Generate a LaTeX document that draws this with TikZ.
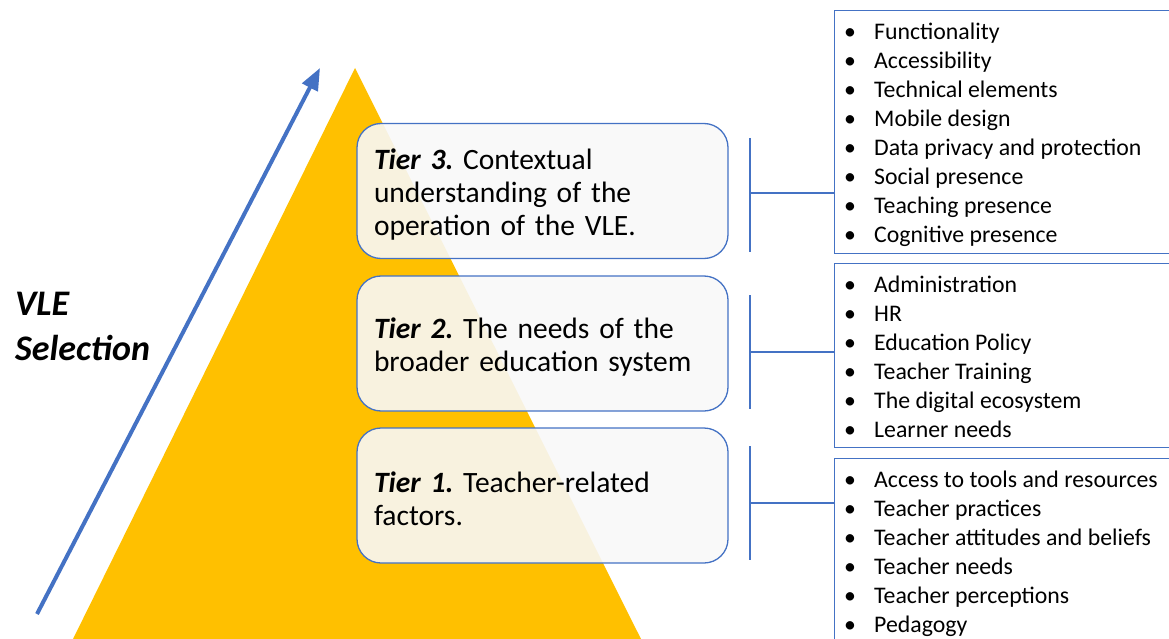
\documentclass[tikz,border=0pt]{standalone}
\usepackage{fontspec}
\setmainfont{Carlito}
\usetikzlibrary{arrows.meta}
\definecolor{gold}{HTML}{FFC000}
\definecolor{vblue}{HTML}{4472C4}
\definecolor{boxfill}{HTML}{F8F8F8}
\frenchspacing
\newcommand{\bul}{\makebox[30pt][l]{\textbullet}}
\newcommand{\toplist}[1]{\parbox[t]{320pt}{\raggedright #1}}
\newcommand{\tstrut}{\rule{0pt}{28pt}}
\tikzset{
  tierbox/.style={draw=vblue, line width=1.3pt, rounded corners=24pt, fill=boxfill, fill opacity=0.9, text opacity=1,
    minimum width=371pt, minimum height=135pt, text width=337pt, align=left, inner xsep=17pt,
    font=\fontsize{29.5}{33}\selectfont},
  listbox/.style={draw=vblue, line width=1.3pt, minimum width=345pt, anchor=north west, inner sep=0pt},
  listtext/.style={anchor=base west, inner sep=0pt, font=\fontsize{23.8}{29}\selectfont},
  brk/.style={draw=vblue, line width=2.2pt},
}
\begin{document}
\begin{tikzpicture}[x=1pt,y=-1pt]
\useasboundingbox (0,0) rectangle (1169,639);
\clip (0,0) rectangle (1169,639);
% pyramid
\fill[gold] (355,68) -- (641,639) -- (73,639) -- cycle;
% arrow
\coordinate (atail) at (37,614);
\coordinate (ahead) at (320,68);
\draw[vblue, line width=4pt, -{Triangle[length=22pt,width=17pt]}] (atail) -- (ahead);
% label
\node[anchor=base west, inner sep=0pt, font=\fontsize{36}{45}\selectfont\bfseries\itshape] (vle) at (15,315) {\parbox[t]{200pt}{\raggedright VLE\\Selection}};
% tier boxes
\node[tierbox] (t3) at (542.5,191) {\tstrut\textbf{\textit{Tier 3.}} Contextual\\understanding of the\\operation of the VLE.};
\node[tierbox] (t2) at (542.5,343.5) {\tstrut\textbf{\textit{Tier 2.}} The needs of the\\broader education system};
\node[tierbox] (t1) at (542.5,495.5) {\tstrut\textbf{\textit{Tier 1.}} Teacher-related\\factors.};
% list boxes
\node[listbox, minimum height=243pt] (l3) at (834,10) {};
\node[listbox, minimum height=184pt] (l2) at (834,263) {};
\node[listbox, minimum height=200pt] (l1) at (834,458) {};
\node[listtext] (l3t) at (844,40) {\toplist{\bul Functionality\\\bul Accessibility\\\bul Technical elements\\\bul Mobile design\\\bul Data privacy and protection\\\bul Social presence\\\bul Teaching presence\\\bul Cognitive presence}};
\node[listtext] (l2t) at (844,292) {\toplist{\bul Administration\\\bul HR\\\bul Education Policy\\\bul Teacher Training\\\bul The digital ecosystem\\\bul Learner needs}};
\node[listtext] (l1t) at (844,487) {\toplist{\bul Access to tools and resources\\\bul Teacher practices\\\bul Teacher attitudes and beliefs\\\bul Teacher needs\\\bul Teacher perceptions\\\bul Pedagogy}};
% brackets and connectors
\coordinate (b3a) at (750,138); \coordinate (b3b) at (750,252); \coordinate (b3m) at (750,193);
\coordinate (b2a) at (750,295); \coordinate (b2b) at (750,409); \coordinate (b2m) at (750,352);
\coordinate (b1a) at (750,446); \coordinate (b1b) at (750,560); \coordinate (b1m) at (750,503);
\draw[brk] (b3a) -- (b3b);
\draw[brk] (b2a) -- (b2b);
\draw[brk] (b1a) -- (b1b);
\draw[brk] (b3m) -- (b3m -| l3.west);
\draw[brk] (b2m) -- (b2m -| l2.west);
\draw[brk] (b1m) -- (b1m -| l1.west);
\end{tikzpicture}
\end{document}
